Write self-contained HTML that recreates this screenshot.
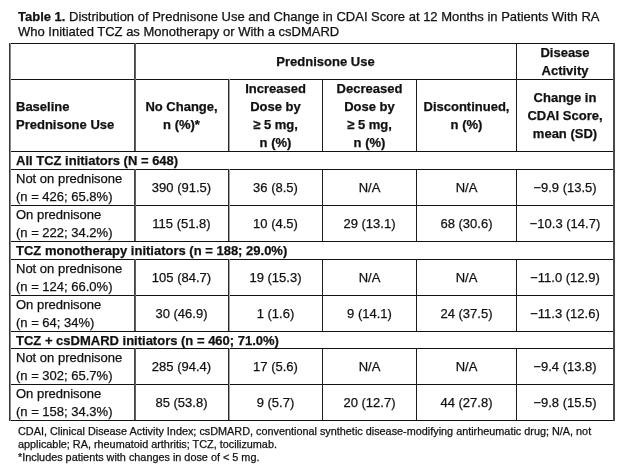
<!DOCTYPE html>
<html><head><meta charset="utf-8">
<style>
*{margin:0;padding:0;box-sizing:border-box}
html,body{width:624px;height:469px;background:#fff;overflow:hidden}
body{position:relative;font-family:"Liberation Sans",Arial,sans-serif;color:#111;-webkit-text-stroke:0.25px #111}
.t{position:absolute;white-space:nowrap;font-size:13px;line-height:18px;margin-top:1px}
.b{font-weight:bold}
.c{text-align:center}
.h{position:absolute;background:#121212;height:1px;left:9px;width:606px}
.v{position:absolute;width:1px;background:#1c1c1c}
.v9{left:9px;width:2px;background:linear-gradient(to right,#363636 50%,#8a8a8a 50%)}
.v613{left:613px;width:2px;background:#4a4a4a}
.v134{left:134px;width:2px;background:linear-gradient(to right,#464646 50%,#5e5e5e 50%)}
.v228{left:228px;width:2px;background:linear-gradient(to right,#2a2a2a 50%,#a0a0a0 50%)}
.v322{left:322px}.v416{left:416px}.v516{left:516px}
#title{position:absolute;left:18px;top:9px;font-size:13px;line-height:15px;white-space:nowrap}
#foot{position:absolute;left:18px;top:425px;font-size:10.85px;line-height:13px;white-space:nowrap}
</style></head><body>
<div id="title"><b>Table 1.</b> Distribution of Prednisone Use and Change in CDAI Score at 12 Months in Patients With RA<br>Who Initiated TCZ as Monotherapy or With a csDMARD</div>

<!-- horizontal lines -->
<div class="h" style="top:43px"></div>
<div class="h" style="top:79px"></div>
<div class="h" style="top:151px"></div>
<div class="h" style="top:169px"></div>
<div class="h" style="top:205px"></div>
<div class="h" style="top:241px"></div>
<div class="h" style="top:259px"></div>
<div class="h" style="top:295px"></div>
<div class="h" style="top:331px"></div>
<div class="h" style="top:348px"></div>
<div class="h" style="top:384px"></div>
<div class="h" style="top:420px"></div>
<!-- verticals -->
<div class="v v9" style="top:43px;height:378px"></div>
<div class="v v613" style="top:43px;height:378px"></div>
<div class="v v134" style="top:43px;height:108px"></div>
<div class="v v516" style="top:43px;height:108px"></div>
<div class="v v228" style="top:79px;height:72px"></div>
<div class="v v322" style="top:79px;height:72px"></div>
<div class="v v416" style="top:79px;height:72px"></div>
<div class="v v134" style="top:169px;height:72px"></div>
<div class="v v228" style="top:169px;height:72px"></div>
<div class="v v322" style="top:169px;height:72px"></div>
<div class="v v416" style="top:169px;height:72px"></div>
<div class="v v516" style="top:169px;height:72px"></div>
<div class="v v134" style="top:259px;height:72px"></div>
<div class="v v228" style="top:259px;height:72px"></div>
<div class="v v322" style="top:259px;height:72px"></div>
<div class="v v416" style="top:259px;height:72px"></div>
<div class="v v516" style="top:259px;height:72px"></div>
<div class="v v134" style="top:348px;height:72px"></div>
<div class="v v228" style="top:348px;height:72px"></div>
<div class="v v322" style="top:348px;height:72px"></div>
<div class="v v416" style="top:348px;height:72px"></div>
<div class="v v516" style="top:348px;height:72px"></div>

<!-- header row 1 -->
<div class="t b c" style="left:135px;width:381px;top:52px">Prednisone Use</div>
<div class="t b c" style="left:517px;width:96px;top:43px">Disease<br>Activity</div>
<!-- header row 2 -->
<div class="t b" style="left:16px;top:97px">Baseline<br>Prednisone Use</div>
<div class="t b c" style="left:135px;width:93px;top:97px">No Change,<br>n (%)*</div>
<div class="t b c" style="left:229px;width:93px;top:79px">Increased<br>Dose by<br>≥ 5 mg,<br>n (%)</div>
<div class="t b c" style="left:323px;width:93px;top:79px">Decreased<br>Dose by<br>≥ 5 mg,<br>n (%)</div>
<div class="t b c" style="left:417px;width:99px;top:97px">Discontinued,<br>n (%)</div>
<div class="t b c" style="left:517px;width:96px;top:88px">Change in<br>CDAI Score,<br>mean (SD)</div>

<!-- group 1 -->
<div class="t b" style="left:16px;top:151px">All TCZ initiators (N = 648)</div>
<div class="t" style="left:16px;top:169px">Not on prednisone<br>(n = 426; 65.8%)</div>
<div class="t c" style="left:135px;width:93px;top:178px">390 (91.5)</div>
<div class="t c" style="left:229px;width:93px;top:178px">36 (8.5)</div>
<div class="t c" style="left:323px;width:93px;top:178px">N/A</div>
<div class="t c" style="left:417px;width:99px;top:178px">N/A</div>
<div class="t c" style="left:517px;width:96px;top:178px">−9.9 (13.5)</div>
<div class="t" style="left:16px;top:205px">On prednisone<br>(n = 222; 34.2%)</div>
<div class="t c" style="left:135px;width:93px;top:214px">115 (51.8)</div>
<div class="t c" style="left:229px;width:93px;top:214px">10 (4.5)</div>
<div class="t c" style="left:323px;width:93px;top:214px">29 (13.1)</div>
<div class="t c" style="left:417px;width:99px;top:214px">68 (30.6)</div>
<div class="t c" style="left:517px;width:96px;top:214px">−10.3 (14.7)</div>

<!-- group 2 -->
<div class="t b" style="left:16px;top:241px">TCZ monotherapy initiators (n = 188; 29.0%)</div>
<div class="t" style="left:16px;top:259px">Not on prednisone<br>(n = 124; 66.0%)</div>
<div class="t c" style="left:135px;width:93px;top:268px">105 (84.7)</div>
<div class="t c" style="left:229px;width:93px;top:268px">19 (15.3)</div>
<div class="t c" style="left:323px;width:93px;top:268px">N/A</div>
<div class="t c" style="left:417px;width:99px;top:268px">N/A</div>
<div class="t c" style="left:517px;width:96px;top:268px">−11.0 (12.9)</div>
<div class="t" style="left:16px;top:295px">On prednisone<br>(n = 64; 34%)</div>
<div class="t c" style="left:135px;width:93px;top:304px">30 (46.9)</div>
<div class="t c" style="left:229px;width:93px;top:304px">1 (1.6)</div>
<div class="t c" style="left:323px;width:93px;top:304px">9 (14.1)</div>
<div class="t c" style="left:417px;width:99px;top:304px">24 (37.5)</div>
<div class="t c" style="left:517px;width:96px;top:304px">−11.3 (12.6)</div>

<!-- group 3 -->
<div class="t b" style="left:16px;top:331px">TCZ + csDMARD initiators (n = 460; 71.0%)</div>
<div class="t" style="left:16px;top:348px">Not on prednisone<br>(n = 302; 65.7%)</div>
<div class="t c" style="left:135px;width:93px;top:357px">285 (94.4)</div>
<div class="t c" style="left:229px;width:93px;top:357px">17 (5.6)</div>
<div class="t c" style="left:323px;width:93px;top:357px">N/A</div>
<div class="t c" style="left:417px;width:99px;top:357px">N/A</div>
<div class="t c" style="left:517px;width:96px;top:357px">−9.4 (13.8)</div>
<div class="t" style="left:16px;top:384px">On prednisone<br>(n = 158; 34.3%)</div>
<div class="t c" style="left:135px;width:93px;top:393px">85 (53.8)</div>
<div class="t c" style="left:229px;width:93px;top:393px">9 (5.7)</div>
<div class="t c" style="left:323px;width:93px;top:393px">20 (12.7)</div>
<div class="t c" style="left:417px;width:99px;top:393px">44 (27.8)</div>
<div class="t c" style="left:517px;width:96px;top:393px">−9.8 (15.5)</div>

<div id="foot">CDAI, Clinical Disease Activity Index; csDMARD, conventional synthetic disease-modifying antirheumatic drug; N/A, not<br>applicable; RA, rheumatoid arthritis; TCZ, tocilizumab.<br>*Includes patients with changes in dose of &lt; 5 mg.</div>
</body></html>
